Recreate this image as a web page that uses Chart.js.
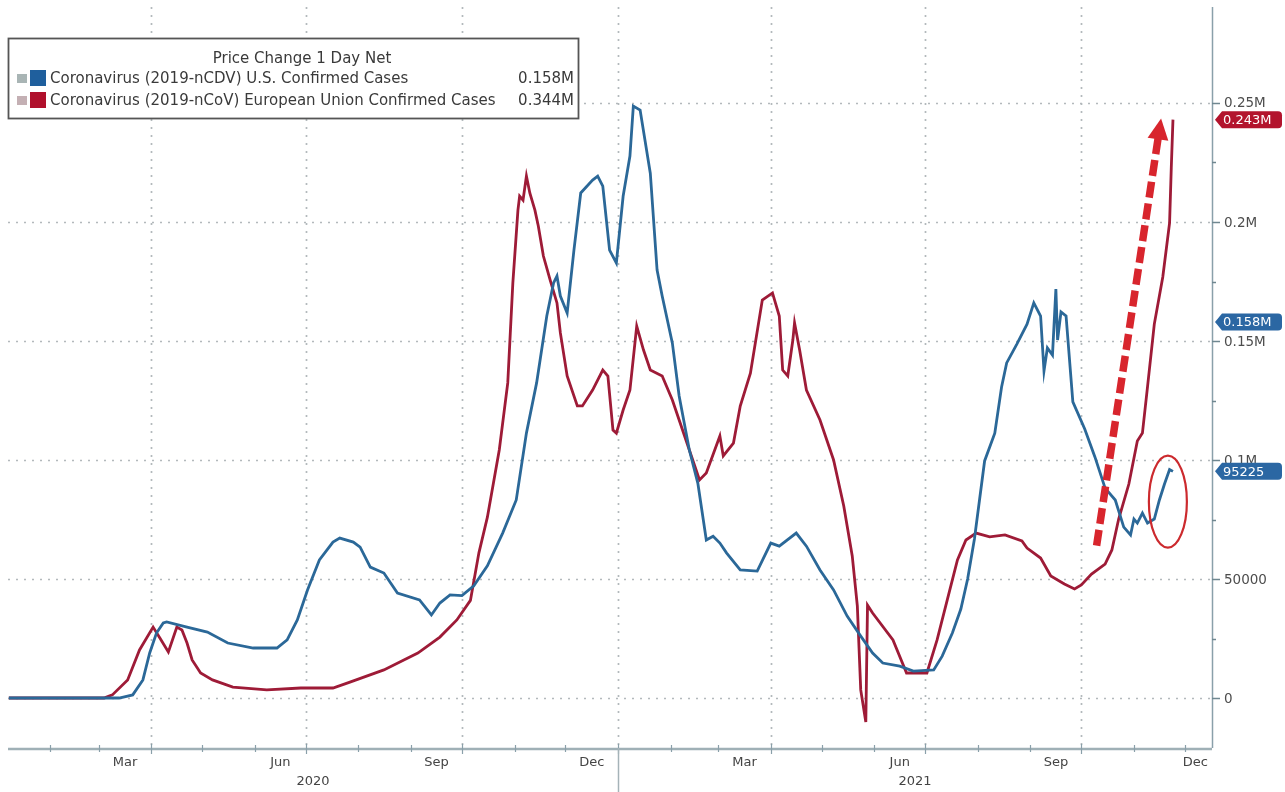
<!DOCTYPE html>
<html>
<head>
<meta charset="utf-8">
<script src="https://cdn.jsdelivr.net/npm/chart.js@4.4.0/dist/chart.umd.min.js"></script>
<style>
html,body{margin:0;padding:0;background:#ffffff;}
#wrap{position:relative;width:1285px;height:792px;}
</style>
</head>
<body>
<div id="wrap"><canvas id="c" width="1285" height="792"></canvas></div>
<script>
// ---------------- DATA ----------------
const usDates = ['2020-01-08','2020-03-13','2020-03-21','2020-03-27','2020-03-31','2020-04-04','2020-04-08','2020-04-10','2020-04-22','2020-05-04','2020-05-16','2020-05-31','2020-06-14','2020-06-20','2020-06-26','2020-07-02','2020-07-09','2020-07-17','2020-07-21','2020-07-29','2020-08-02','2020-08-08','2020-08-16','2020-08-24','2020-09-06','2020-09-13','2020-09-18','2020-09-24','2020-10-01','2020-10-08','2020-10-16','2020-10-25','2020-11-02','2020-11-08','2020-11-14','2020-11-20','2020-11-24','2020-11-26','2020-11-28','2020-12-02','2020-12-06','2020-12-10','2020-12-17','2020-12-20','2020-12-23','2020-12-27','2020-12-31','2021-01-04','2021-01-08','2021-01-10','2021-01-14','2021-01-20','2021-01-24','2021-01-27','2021-02-02','2021-02-06','2021-02-12','2021-02-17','2021-02-22','2021-02-26','2021-03-02','2021-03-06','2021-03-14','2021-03-24','2021-04-01','2021-04-06','2021-04-16','2021-04-22','2021-04-30','2021-05-08','2021-05-16','2021-05-24','2021-05-31','2021-06-06','2021-06-16','2021-06-24','2021-07-06','2021-07-11','2021-07-17','2021-07-22','2021-07-26','2021-07-30','2021-08-05','2021-08-11','2021-08-15','2021-08-18','2021-08-24','2021-08-30','2021-09-03','2021-09-07','2021-09-09','2021-09-11','2021-09-14','2021-09-16','2021-09-17','2021-09-19','2021-09-22','2021-09-26','2021-10-03','2021-10-09','2021-10-15','2021-10-21','2021-10-26','2021-10-30','2021-11-01','2021-11-03','2021-11-06','2021-11-09','2021-11-13','2021-11-16','2021-11-19','2021-11-22','2021-11-24'];
const usCases = [0,0,1300,7600,18900,27300,31500,32000,29800,27700,23100,21000,21000,24400,32800,45400,58000,65500,67200,65500,63400,55000,52500,44100,41200,34900,39900,43300,43000,47100,55500,69300,83200,111300,132400,160500,174400,177300,168900,161800,188200,212200,217600,219300,215100,188200,182800,210900,227700,248700,247000,220500,179800,168900,149100,126900,104200,90300,66400,68000,65100,60900,53800,53300,65100,63800,69300,63800,53800,45400,34400,26000,18900,14700,13400,11300,11800,17600,27300,37400,50000,66800,99600,111300,130700,140800,148700,157100,166000,160500,137400,147100,144100,171800,150400,162200,160500,124400,113000,101300,88200,83200,71800,68500,75200,73500,77700,73500,75200,83200,89900,96000,95225];

const euDates = ['2020-01-08','2020-03-04','2020-03-09','2020-03-18','2020-03-25','2020-04-02','2020-04-06','2020-04-11','2020-04-16','2020-04-19','2020-04-22','2020-04-25','2020-04-30','2020-05-07','2020-05-19','2020-06-08','2020-06-28','2020-07-17','2020-07-27','2020-08-16','2020-09-05','2020-09-18','2020-09-28','2020-10-06','2020-10-11','2020-10-16','2020-10-23','2020-10-28','2020-10-31','2020-11-03','2020-11-04','2020-11-06','2020-11-08','2020-11-10','2020-11-13','2020-11-15','2020-11-18','2020-11-22','2020-11-26','2020-11-28','2020-12-02','2020-12-08','2020-12-11','2020-12-17','2020-12-23','2020-12-26','2020-12-29','2020-12-31','2021-01-04','2021-01-08','2021-01-12','2021-01-16','2021-01-20','2021-01-27','2021-02-02','2021-02-06','2021-02-12','2021-02-18','2021-02-22','2021-03-02','2021-03-04','2021-03-10','2021-03-14','2021-03-20','2021-03-27','2021-04-02','2021-04-06','2021-04-08','2021-04-11','2021-04-14','2021-04-15','2021-04-18','2021-04-22','2021-04-30','2021-05-08','2021-05-14','2021-05-19','2021-05-22','2021-05-24','2021-05-27','2021-05-28','2021-05-31','2021-06-12','2021-06-20','2021-07-02','2021-07-08','2021-07-14','2021-07-20','2021-07-25','2021-07-31','2021-08-08','2021-08-17','2021-08-27','2021-08-30','2021-09-07','2021-09-13','2021-09-21','2021-09-27','2021-10-01','2021-10-07','2021-10-15','2021-10-19','2021-10-23','2021-10-29','2021-11-03','2021-11-06','2021-11-09','2021-11-13','2021-11-18','2021-11-22','2021-11-23','2021-11-24'];
const euCases = [0,0,1300,7600,20200,29800,25200,19300,29800,28600,23100,16000,10500,7600,4600,3400,4200,4200,6700,11800,18900,25600,32800,41000,61000,76000,104200,132400,174400,205000,210900,209200,219300,212200,205000,198300,185700,175600,166000,153400,135300,122700,122700,129400,137800,135300,112600,111300,121000,129400,156300,146200,137800,135300,125200,116800,104200,91600,94500,110100,101700,107100,122700,136500,167200,170200,160500,137800,135300,150400,157600,146200,129400,116800,100000,80700,59700,38700,3400,-10100,39000,35700,24400,10500,10500,24400,41200,58000,66400,69300,67700,68500,66000,63000,58800,51300,47900,45800,47500,52100,56300,62200,75200,89900,108000,111300,130700,157100,176900,199600,222700,243000];

const seriesNames = ['Coronavirus (2019-nCDV) U.S. Confirmed Cases', 'Coronavirus (2019-nCoV) European Union Confirmed Cases'];
const legendTitle = 'Price Change 1 Day Net';
const legendValues = ['0.158M', '0.344M'];

const yTickValues = [0, 50000, 100000, 150000, 200000, 250000];
const yTickLabels = ['0', '50000', '0.1M', '0.15M', '0.2M', '0.25M'];
const monthLabelMonths = ['2020-03','2020-06','2020-09','2020-12','2021-03','2021-06','2021-09','2021-12'];
const monthLabels = ['Mar','Jun','Sep','Dec','Mar','Jun','Sep','Dec'];
const gridDates = ['2020-04-01','2020-07-01','2020-10-01','2021-01-01','2021-04-01','2021-07-01','2021-10-01'];
const yearLabels = ['2020', '2021'];

const tagValues = [243000, 158000, 95225];
const tagTexts = ['0.243M', '0.158M', '95225'];
const tagSeries = [1, 0, 0];

// annotation anchors (date, value)
const arrowFrom = ['2021-10-10', 64000];
const arrowTo = ['2021-11-17', 243500];
const circleAt = ['2021-11-21', 82500];

// ---------------- helpers ----------------
const DAY0 = Date.UTC(2020, 0, 1);
function toDay(s) {
  const p = s.split('-').map(Number);
  return (Date.UTC(p[0], p[1] - 1, p[2] || 1) - DAY0) / 86400000;
}
const X_MIN = 6.5, X_MAX = 716;
const Y_MIN = -21008, Y_MAX = 290336;

const COL_US = '#2b6898';
const COL_EU = '#9e1b37';
const FONT = '"DejaVu Sans", "Liberation Sans", Arial, sans-serif';

const usData = usDates.map((d, i) => ({x: toDay(d), y: usCases[i]}));
const euData = euDates.map((d, i) => ({x: toDay(d), y: euCases[i]}));

function ln(ctx, x1, y1, x2, y2) { ctx.beginPath(); ctx.moveTo(x1, y1); ctx.lineTo(x2, y2); ctx.stroke(); }

const deco = {
  id: 'deco',
  beforeDatasetsDraw(chart) {
    const {ctx, chartArea: ca, scales: {x, y}} = chart;
    ctx.save();
    ctx.strokeStyle = '#b3b9bc';
    ctx.lineWidth = 1.7;
    ctx.setLineDash([2, 6]);
    yTickValues.forEach(v => {
      const py = Math.round(y.getPixelForValue(v)) + 0.5;
      ln(ctx, ca.left, py, ca.right, py);
    });
    gridDates.forEach(d => {
      const px = Math.round(x.getPixelForValue(toDay(d))) + 0.5;
      ln(ctx, px, ca.top, px, ca.bottom);
    });
    ctx.restore();
  },
  afterDatasetsDraw(chart) {
    const {ctx, chartArea: ca, scales: {x, y}} = chart;
    ctx.save();
    // ---- axes ----
    ctx.strokeStyle = '#8aa0aa';
    ctx.lineWidth = 1.5;
    ln(ctx, ca.right + 0.5, ca.top, ca.right + 0.5, ca.bottom);
    ctx.strokeStyle = '#9fb0b6';
    ctx.lineWidth = 2.5;
    ln(ctx, ca.left, ca.bottom + 1, ca.right, ca.bottom + 1);

    // right ticks + labels
    ctx.strokeStyle = '#6f8790';
    ctx.lineWidth = 1.5;
    for (let i = 0; i < yTickValues.length; i++) {
      const py = Math.round(y.getPixelForValue(yTickValues[i])) + 0.5;
      ln(ctx, ca.right, py, ca.right + 8, py);
      if (i < yTickValues.length - 1) {
        const pm = Math.round(y.getPixelForValue((yTickValues[i] + yTickValues[i + 1]) / 2)) + 0.5;
        ln(ctx, ca.right, pm, ca.right + 4, pm);
      }
    }
    ctx.fillStyle = '#4d4d4d';
    ctx.font = '13.5px ' + FONT;
    ctx.textBaseline = 'middle';
    ctx.textAlign = 'left';
    yTickValues.forEach((v, i) => {
      ctx.fillText(yTickLabels[i], ca.right + 12, y.getPixelForValue(v) + 1);
    });

    // bottom month ticks
    ctx.strokeStyle = '#8aa0aa';
    ctx.lineWidth = 1.2;
    for (let yr = 2020; yr <= 2021; yr++) {
      for (let m = 1; m <= 12; m++) {
        const dd = toDay(yr + '-' + String(m).padStart(2, '0') + '-01');
        if (dd < X_MIN || dd > X_MAX) continue;
        const px = Math.round(x.getPixelForValue(dd)) + 0.5;
        const q = (m - 1) % 3 === 0;
        ln(ctx, px, ca.bottom - (q ? 4 : 3), px, ca.bottom + (q ? 6 : 4));
      }
    }
    // month labels, centred on visible part of month
    ctx.fillStyle = '#444';
    ctx.font = '13px ' + FONT;
    ctx.textAlign = 'center';
    monthLabelMonths.forEach((mm, i) => {
      const p = mm.split('-').map(Number);
      const s = toDay(mm + '-01');
      const e = (Date.UTC(p[0], p[1], 1) - DAY0) / 86400000;
      const a = Math.max(s, X_MIN), b = Math.min(e, X_MAX);
      let px = x.getPixelForValue((a + b) / 2);
      const w = ctx.measureText(monthLabels[i]).width;
      px = Math.min(px, ca.right - 4 - w / 2);
      ctx.fillText(monthLabels[i], px, ca.bottom + 15);
    });
    // year labels
    yearLabels.forEach(yl => {
      const s = toDay(yl + '-01-01');
      const e = toDay((+yl + 1) + '-01-01');
      const a = Math.max(s, X_MIN), b = Math.min(e, X_MAX);
      ctx.fillText(yl, x.getPixelForValue((a + b) / 2), ca.bottom + 34);
    });
    // year separator
    ctx.strokeStyle = '#a5b3b8';
    ctx.lineWidth = 1.5;
    const sep = Math.round(x.getPixelForValue(toDay('2021-01-01'))) + 0.5;
    ln(ctx, sep, ca.bottom, sep, chart.height);

    // ---- annotations: dashed arrow ----
    const ax0 = x.getPixelForValue(toDay(arrowFrom[0])), ay0 = y.getPixelForValue(arrowFrom[1]);
    const ax1 = x.getPixelForValue(toDay(arrowTo[0])), ay1 = y.getPixelForValue(arrowTo[1]);
    const dx = ax1 - ax0, dy = ay1 - ay0, L = Math.hypot(dx, dy);
    const ux = dx / L, uy = dy / L;
    const headL = 21, headW = 10.5;
    const bx = ax1 - ux * headL, by = ay1 - uy * headL;
    ctx.strokeStyle = '#d8252d';
    ctx.lineWidth = 7.5;
    ctx.setLineDash([16, 6]);
    ln(ctx, ax0, ay0, bx + ux * 2, by + uy * 2);
    ctx.setLineDash([]);
    ctx.fillStyle = '#d8252d';
    ctx.beginPath();
    ctx.moveTo(ax1, ay1);
    ctx.lineTo(bx - uy * headW, by + ux * headW);
    ctx.lineTo(bx + uy * headW, by - ux * headW);
    ctx.closePath();
    ctx.fill();

    // ellipse
    ctx.strokeStyle = '#cc2a2e';
    ctx.lineWidth = 2.2;
    ctx.beginPath();
    ctx.ellipse(x.getPixelForValue(toDay(circleAt[0])), y.getPixelForValue(circleAt[1]), 19, 46, 0, 0, Math.PI * 2);
    ctx.stroke();

    // ---- value tags ----
    ctx.font = '13px ' + FONT;
    ctx.textAlign = 'left';
    ctx.textBaseline = 'middle';
    tagValues.forEach((v, i) => {
      const py = y.getPixelForValue(v);
      const col = tagSeries[i] === 0 ? '#2b67a3' : '#b3142d';
      const x0 = ca.right + 3, x1 = ca.right + 10, x2 = chart.width - 3, h = 8.5, r = 4;
      ctx.fillStyle = col;
      ctx.beginPath();
      ctx.moveTo(x0, py);
      ctx.lineTo(x1, py - h);
      ctx.lineTo(x2 - r, py - h);
      ctx.quadraticCurveTo(x2, py - h, x2, py - h + r);
      ctx.lineTo(x2, py + h - r);
      ctx.quadraticCurveTo(x2, py + h, x2 - r, py + h);
      ctx.lineTo(x1, py + h);
      ctx.closePath();
      ctx.fill();
      ctx.fillStyle = '#ffffff';
      ctx.fillText(tagTexts[i], ca.right + 11, py + 1);
    });

    // ---- legend box ----
    const lx = 8, ly = 38, lw = 570, lh = 80;
    ctx.fillStyle = '#ffffff';
    ctx.fillRect(lx, ly, lw, lh);
    ctx.strokeStyle = '#555555';
    ctx.lineWidth = 1.8;
    ctx.strokeRect(lx + 0.5, ly + 0.5, lw, lh);
    // fit font so the long entry spans ~446px
    let fs = 15;
    ctx.font = fs + 'px ' + FONT;
    const wEU = ctx.measureText(seriesNames[1]).width;
    fs = Math.max(11, Math.min(17, fs * 446 / wEU));
    ctx.font = fs.toFixed(2) + 'px ' + FONT;
    ctx.fillStyle = '#3a3a3a';
    ctx.textAlign = 'center';
    ctx.fillText(legendTitle, 302, 59);
    const rows = [78, 100];
    const greySq = ['#a9b5b5', '#c4b0b4'];
    rows.forEach((ry, i) => {
      ctx.fillStyle = greySq[i];
      ctx.fillRect(17, ry - 4, 10, 9);
      ctx.fillStyle = i === 0 ? '#1f5f9d' : '#b0102c';
      ctx.fillRect(30, ry - 8, 16, 16);
      ctx.fillStyle = '#3a3a3a';
      ctx.textAlign = 'left';
      ctx.fillText(seriesNames[i], 50, ry + 1);
      ctx.textAlign = 'right';
      ctx.fillText(legendValues[i], 574, ry + 1);
    });
    ctx.restore();
  }
};

new Chart(document.getElementById('c'), {
  type: 'line',
  data: {
    datasets: [
      {label: seriesNames[0], data: usData, borderColor: COL_US, borderWidth: 2.8, pointRadius: 0, tension: 0, fill: false},
      {label: seriesNames[1], data: euData, borderColor: COL_EU, borderWidth: 2.8, pointRadius: 0, tension: 0, fill: false}
    ]
  },
  options: {
    responsive: false,
    animation: false,
    layout: {padding: {left: 8, right: 73, top: 7, bottom: 44}},
    plugins: {legend: {display: false}, tooltip: {enabled: false}},
    scales: {
      x: {type: 'linear', min: X_MIN, max: X_MAX, display: false},
      y: {type: 'linear', min: Y_MIN, max: Y_MAX, display: false}
    }
  },
  plugins: [deco]
});
</script>
</body>
</html>
